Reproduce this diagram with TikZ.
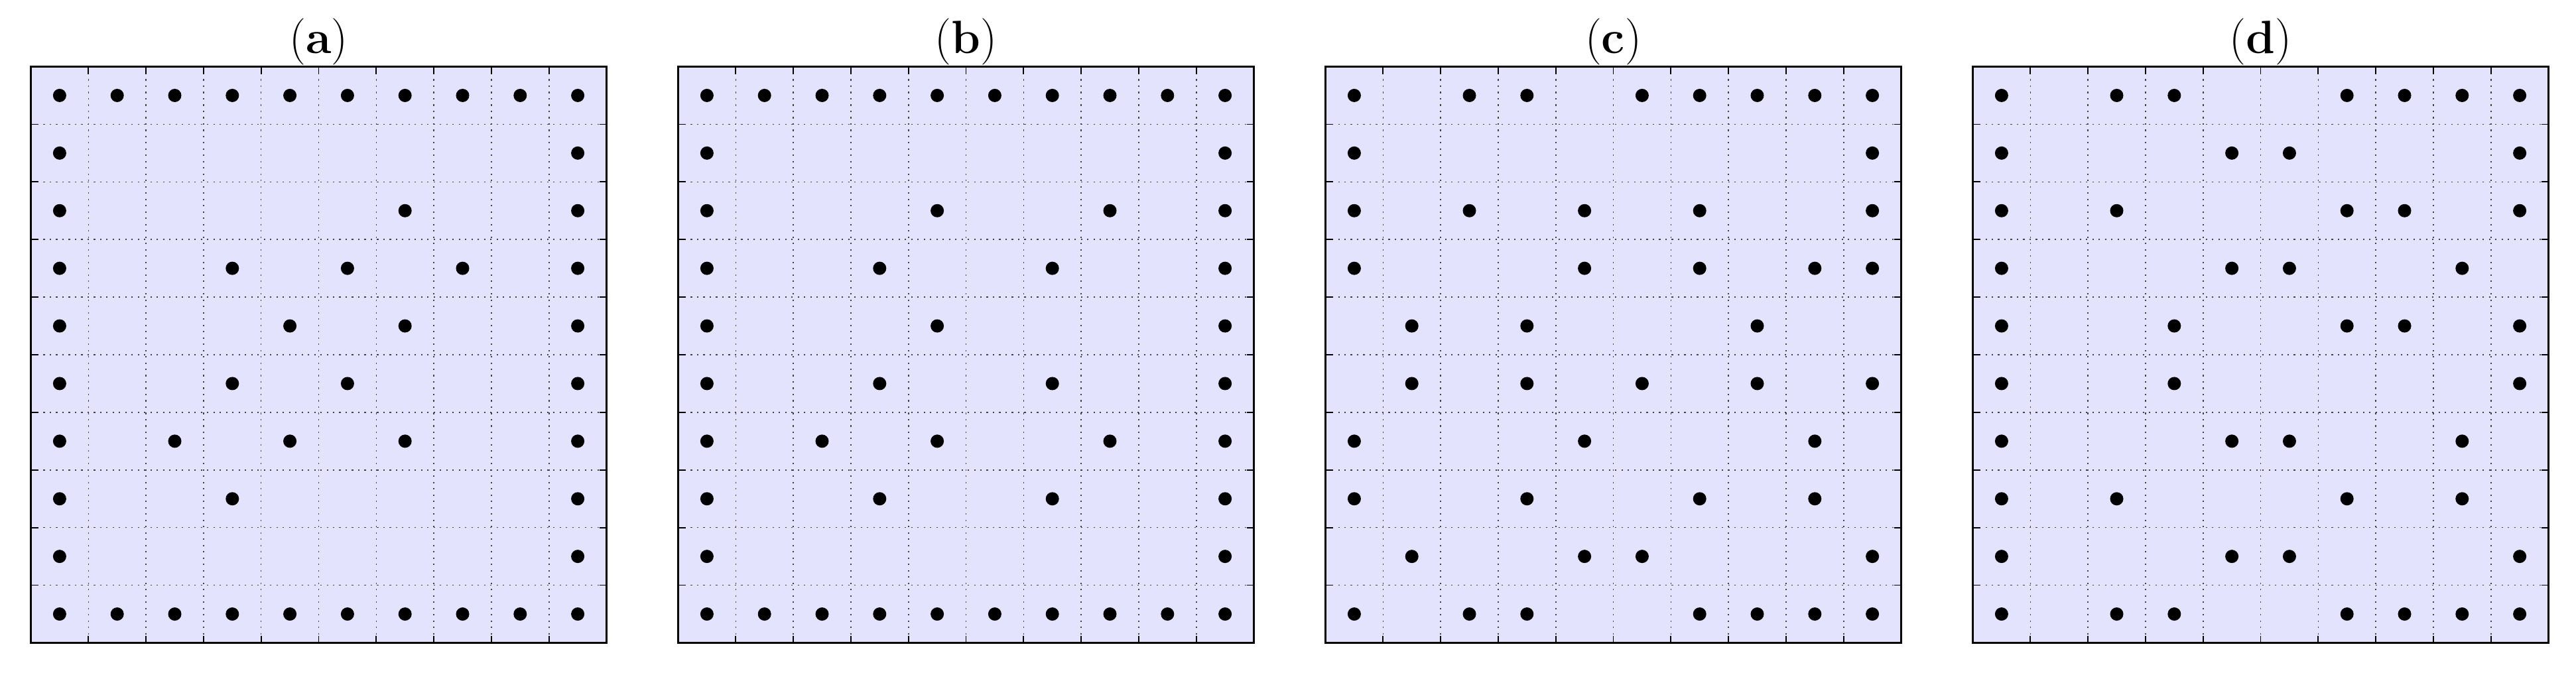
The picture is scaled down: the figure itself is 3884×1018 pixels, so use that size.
\documentclass[tikz,border=0pt]{standalone}
\definecolor{panelfill}{RGB}{227,227,253}
\tikzset{
  panelframe/.style={draw=black, line width=0.6pt},
  gridline/.style={draw=black!75, line width=0.45pt, dash pattern=on 0.6pt off 2.1pt},
  tickline/.style={draw=black, line width=0.5pt},
  dotmark/.style={fill=black},
  paneltitle/.style={anchor=base, inner sep=0pt, font=\fontsize{20}{24}\selectfont}
}
\newcommand{\drawpanel}[3]{%
  \begin{scope}[shift={(#1,100.5)}]
    \fill[panelfill] (0,0) rectangle (868,869);
    \foreach \k in {1,...,9}{
      \draw[gridline] (\k*86.8,0) -- (\k*86.8,869);
      \draw[gridline] (0,\k*86.9) -- (868,\k*86.9);
      \draw[tickline] (\k*86.8,0) -- (\k*86.8,11);
      \draw[tickline] (\k*86.8,869) -- (\k*86.8,858);
      \draw[tickline] (0,\k*86.9) -- (11,\k*86.9);
      \draw[tickline] (868,\k*86.9) -- (857,\k*86.9);
    }
    \foreach \r/\cols in {#3}{
      \foreach \c in \cols{
        \fill[dotmark] (\c*86.8+43.4,\r*86.9+43.45) circle (1mm);
      }
    }
    \draw[panelframe] (0,0) rectangle (868,869);
    \node[paneltitle] (title-#2) at (434,-20) {(\textbf{#2})};
  \end{scope}}
\begin{document}
\begin{tikzpicture}[x=0.1mm,y=-0.1mm]
\useasboundingbox (0,0) rectangle (3884,1018);
\drawpanel{46.5}{a}{0/{0,1,2,3,4,5,6,7,8,9},1/{0,9},2/{0,6,9},3/{0,3,5,7,9},4/{0,4,6,9},5/{0,3,5,9},6/{0,2,4,6,9},7/{0,3,9},8/{0,9},9/{0,1,2,3,4,5,6,7,8,9}}
\drawpanel{1022.5}{b}{0/{0,1,2,3,4,5,6,7,8,9},1/{0,9},2/{0,4,7,9},3/{0,3,6,9},4/{0,4,9},5/{0,3,6,9},6/{0,2,4,7,9},7/{0,3,6,9},8/{0,9},9/{0,1,2,3,4,5,6,7,8,9}}
\drawpanel{1998.5}{c}{0/{0,2,3,5,6,7,8,9},1/{0,9},2/{0,2,4,6,9},3/{0,4,6,8,9},4/{1,3,7},5/{1,3,5,7,9},6/{0,4,8},7/{0,3,6,8},8/{1,4,5,9},9/{0,2,3,6,7,8,9}}
\drawpanel{2974.5}{d}{0/{0,2,3,6,7,8,9},1/{0,4,5,9},2/{0,2,6,7,9},3/{0,4,5,8},4/{0,3,6,7,9},5/{0,3,9},6/{0,4,5,8},7/{0,2,6,8},8/{0,4,5,9},9/{0,2,3,6,7,8,9}}
\end{tikzpicture}
\end{document}
